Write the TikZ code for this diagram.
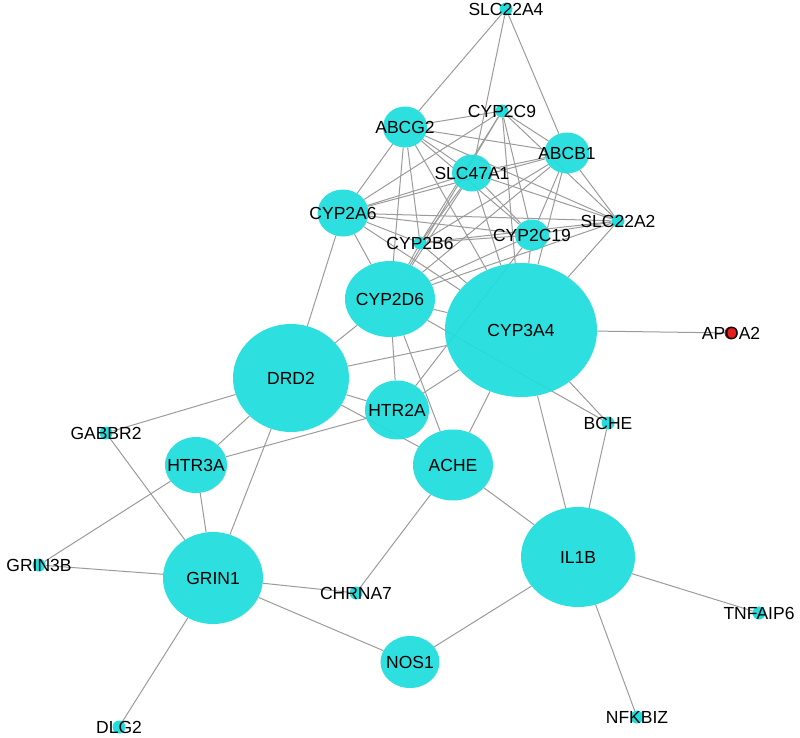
\documentclass[tikz,border=0pt]{standalone}
\usepackage{fontspec}
\setmainfont{Liberation Sans}
\usetikzlibrary{shapes.geometric,backgrounds}
\definecolor{nodecyan}{RGB}{34,221,221}
\definecolor{edgegray}{RGB}{155,155,155}
\definecolor{apored}{RGB}{232,30,30}
\definecolor{apoline}{RGB}{120,20,20}
\tikzset{
  lbl/.style={font=\fontsize{17.5}{20}\selectfont, text=black, inner sep=0pt},
  gene/.style={ellipse, fill=nodecyan, fill opacity=0.95, draw=none, inner sep=0pt},
  dot/.style={circle, fill=nodecyan, draw=none, minimum size=13pt, inner sep=0pt},
  reddot/.style={circle, fill=apored, draw=apoline, line width=0.8pt, minimum size=12pt, inner sep=0pt},
  edge/.style={draw=edgegray, line width=1pt}
}
\newcommand{\gnode}[5]{\node[gene, minimum width=#4pt, minimum height=#5pt, label={[lbl]center:#1}] (#1) at (#2,#3) {};}
\newcommand{\dnode}[3]{\node[dot, label={[lbl]center:#1}] (#1) at (#2,#3) {};}
\begin{document}
\begin{tikzpicture}[x=1pt,y=-1pt]
\useasboundingbox (0,0) rectangle (800,737);
% large nodes
\gnode{ABCG2}{405}{127}{44}{41}
\gnode{ABCB1}{567}{153}{45}{41}
\gnode{SLC47A1}{472}{173}{40}{37}
\gnode{CYP2A6}{343}{213}{51}{47}
\gnode{CYP2C19}{532}{235}{34}{31}
\gnode{CYP2D6}{390}{299}{90}{76}
\gnode{CYP3A4}{521}{330}{152}{134}
\gnode{DRD2}{291}{378}{116}{108}
\gnode{HTR2A}{397}{410}{64}{59}
\gnode{HTR3A}{196}{465}{62}{56}
\gnode{ACHE}{453}{465}{80}{71}
\gnode{GRIN1}{213}{578}{100}{92}
\gnode{IL1B}{578}{557}{114}{100}
\gnode{NOS1}{410}{662}{59}{52}
% small nodes
\dnode{SLC22A4}{506}{9}
\dnode{CYP2C9}{502}{111}
\dnode{CYP2B6}{420}{243}
\dnode{SLC22A2}{618}{221}
\dnode{GABBR2}{106}{433}
\dnode{BCHE}{608}{423}
\dnode{GRIN3B}{39}{565}
\dnode{CHRNA7}{356}{593}
\dnode{TNFAIP6}{759}{613}
\dnode{NFKBIZ}{637}{717}
\dnode{DLG2}{119}{727}
\node[reddot, label={[lbl]center:APOA2}] (APOA2) at (731,333) {};
\begin{pgfonlayer}{background}
\foreach \a/\b in {
  APOA2/CYP3A4, BCHE/CYP3A4, BCHE/CYP2D6, BCHE/IL1B, IL1B/CYP3A4, IL1B/ACHE,
  IL1B/NOS1, IL1B/TNFAIP6, IL1B/NFKBIZ, NOS1/GRIN1, CHRNA7/GRIN1, CHRNA7/ACHE,
  GRIN1/DLG2, GRIN1/GRIN3B, GRIN1/GABBR2, GRIN1/HTR3A, GRIN1/DRD2, GRIN3B/HTR3A,
  GABBR2/DRD2, HTR3A/DRD2, HTR3A/HTR2A, DRD2/HTR2A, DRD2/ACHE, DRD2/CYP3A4,
  DRD2/CYP2D6, DRD2/CYP2A6, HTR2A/CYP2D6, HTR2A/CYP3A4, HTR2A/CYP2C19,
  ACHE/CYP2D6, ACHE/CYP3A4,
  SLC22A4/ABCG2, SLC22A4/SLC47A1, SLC22A4/ABCB1,
  ABCG2/CYP2C9, ABCG2/ABCB1, ABCG2/SLC47A1, ABCG2/CYP2A6, ABCG2/CYP2B6,
  ABCG2/CYP2D6, ABCG2/CYP2C19, ABCG2/CYP3A4, ABCG2/SLC22A2,
  CYP2C9/ABCB1, CYP2C9/CYP2A6, CYP2C9/CYP2B6, CYP2C9/CYP2D6, CYP2C9/CYP2C19,
  CYP2C9/CYP3A4, CYP2C9/SLC22A2,
  ABCB1/SLC47A1, ABCB1/CYP2A6, ABCB1/CYP2B6, ABCB1/CYP2C19, ABCB1/CYP2D6,
  ABCB1/CYP3A4, ABCB1/SLC22A2,
  SLC47A1/CYP2A6, SLC47A1/CYP2B6, SLC47A1/CYP2D6, SLC47A1/CYP2C19,
  SLC47A1/CYP3A4, SLC47A1/SLC22A2,
  CYP2A6/CYP2B6, CYP2A6/CYP2C19, CYP2A6/SLC22A2, CYP2A6/CYP2D6, CYP2A6/CYP3A4,
  CYP2B6/CYP2C19, CYP2B6/SLC22A2, CYP2B6/CYP2D6, CYP2B6/CYP3A4,
  CYP2C19/SLC22A2, CYP2C19/CYP2D6, CYP2C19/CYP3A4,
  SLC22A2/CYP2D6, SLC22A2/CYP3A4, CYP2D6/CYP3A4}
  \draw[edge] (\a) -- (\b);
\end{pgfonlayer}
\end{tikzpicture}
\end{document}
